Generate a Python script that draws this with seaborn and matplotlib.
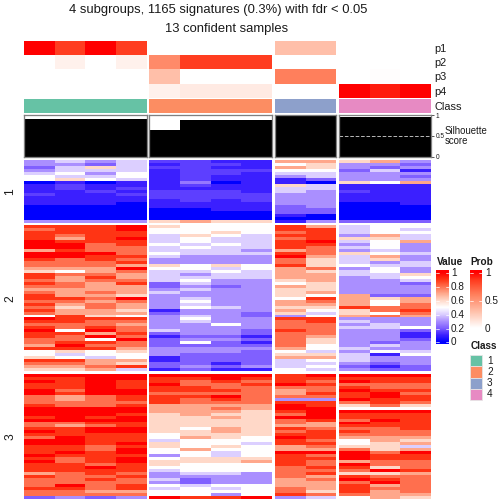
import numpy as np
import matplotlib
matplotlib.use("Agg")
import matplotlib.pyplot as plt
from matplotlib.colors import LinearSegmentedColormap
from matplotlib.patches import Rectangle
import seaborn as sns

sns.set_style("white")
plt.rcParams["font.family"] = ["Liberation Sans", "DejaVu Sans"]

# -----------------------------
# DATA (heat values in tenths)
# -----------------------------
p_rows = ["p1", "p2", "p3", "p4"]
prob_g1 = [[1, .85, 1, .85], [0, .07, 0, .07], [0, 0, 0, 0], [0, 0, 0, 0]]
prob_g2 = [[0, 0, 0, 0], [.55, .85, .85, .85], [.3, 0, 0, 0], [.07, .1, .1, .1]]
prob_g3 = [[.3, .3], [0, 0], [.6, .6], [0, 0]]
prob_g4 = [[0, 0, 0], [0, 0, 0], [0, .01, 0], [1, .93, 1]]

sil_g1 = [.9, .9, .9, .9]
sil_g2 = [.645, .885, .885, .885]
sil_g3 = [.99, .99]
sil_g4 = [.96, .96, .96]

b1_g1 = [[3,4,3,4],[3,3,2,4],[2,4,6,4],[3,4,4,4],[4,5,3,5],[5,4,4,5],[5,6,5,4],
         [0,1,0,1],[1,1.5,1,1],[1,1.5,1,1.5],[1,1,1.5,1],[1.5,1,1,1.5],[1,1,1,1],[1,1,1,1],
         [1,1,1,0],[0,0,0,0],[0,0,0,0],[0,0,0,0],[0,0,0,0],[0,0,0,0],[3,3,3,3]]
b1_g2 = [[1.5,1.5,1,1],[1,1.5,1.5,1],[1.5,1.5,1,1],[1,1.5,1.5,1.5],[1,1.5,1.5,1],[1,1.5,1,1],[1,1.5,1,1],
         [1,2.5,0,1],[1,1.5,1,1],[1,1,1,1],[1.5,1.5,1.5,1],[1.5,1.5,1.5,1.5],[1.5,1.5,1.5,1.5],[1,1.5,1,1.5],
         [1,1,1,1],[1,1,1,1],[0,0,1,1],[0,0,0,0],[0,0,0,0],[0,0,0,0],[6,7,6,6]]
b1_g3 = [[7,7],[5,6],[7,6],[5,5],[4,4],[3,4],[1,2],[1,0],[6,4],[4,4],[4,3],
         [3,3],[3,3],[3,3],[3,3],[2,3],[2,2],[2,2],[1,0],[0,0],[1,3]]
b1_g4 = [[6,7,3],[3,3,2],[3,2,3],[2,4,1],[3,3,3],[3,3,2],[3,3,3],[6,5,7],[1,1,1],
         [1,1,1],[1.5,1,1],[1,1,1],[1,1,1],[1,1,1],[0,0,1],[0,0,0],[0,0,0],[0,0,0],
         [0,0,0],[0,0,0],[2,2,2]]

b2_g1 = [[9,9,9,10],[8,9,9,10],[9,9,9,9],[9,8,9,9],[9,7,9,10],[10,9,9,9],[10,10,8,9],
         [10,10,8,8],[7,9,8,8],[10,10,10,8],[10,10,9,9],[9,8,9,8],[8,8,8,9],[8,8,8,7],
         [7,7,7,10],[6,5,7,8],[9,8,8,7],[9,7,9,7],[8,7,8,8],[9,8,7,9],[8,8,7,7],
         [7,7,7,7],[8,7,8,7],[9,7,7,6],[9,9,8,10],[8,8,7,8],[9,7,8,7],[8,6,8,7],
         [9,7,7,6],[8,7,7,7],[5,9,6,5],[10,9,9,9],[9,9,8,8],[8,8,8,7],[9,8,9,8],
         [10,5,10,8],[9,9,7,9],[9,8,10,8],[8,8,5,10],[8,9,9,8],[7,10,8,8],[9,9,9,7],
         [5,6,5,6],[5,4,5,5],[6,5,4,5],[9,9,7,7],[8,8,7,6],[7,7,8,9],[6,6,7,4]]
b2_g2 = [[6,5,5,5],[5,5,5,5],[5,5,6,5],[4,6,5,4],[4,5,4,4],[4,5,4,4],[5,4,5,4],
         [4,5,4,4],[4,4,4,3],[5,4,4,4],[4,3,3,3],[3,3,3,3],[3,3,3,3],[6,5,6,5],
         [5,5,4,5],[4,4,5,4],[4,3,4,4],[4,4,4,4],[4,5,3,3],[2,4,3,3],[2,3,2,3],
         [3,4,3,3],[4,3,3,3],[3,3,3,3],[3,4,3,3],[3,5,3,3],[3,4,3,3],[3,5,4,3],
         [1,3,3,3],[2,3,3,2],[3,4,3,2],[3,5,3,3],[3,4,3,3],[3,3,5,3],[3,3,3,3],
         [4,3,3,2],[2,3,3,2],[1,2,2,1],[2,3,3,2],[2,5,2,1],[2,2,2,2],[3,3,3,3],
         [3,3,3,2],[3,2,2,2],[1,2,2,2],[1,2,2,2],[2,2,1,2],[2,3,2,3],[1,2,1,1]]
b2_g3 = [[9,7],[9,9],[8,9],[9,9],[8,9],[9,10],[9,9],[9,8],[7,8],[9,8],[10,7],[8,6],
         [8,6],[9,6],[7,8],[7,6],[7,7],[7,7],[6,7],[5,6],[7,6],[6,6],[6,7],[6,5],
         [5,9],[7,8],[7,7],[6,6],[7,5],[6,4],[3,5],[9,9],[8,9],[8,8],[8,8],[9,8],
         [8,8],[8,7],[8,6],[8,6],[8,5],[7,5],[5,4],[6,6],[7,7],[4,5],[4,4],[4,5],[5,4]]
b2_g4 = [[4,5,5],[4,5,4],[4,5,5],[3,7,4],[6,6,4],[4,5,7],[3,5,3],[4,5,3],[3,4,3],
         [6,5,4],[4,7,3],[4,6,3],[4,3,4],[5,4,4],[3,5,3],[4,5,3],[4,4,6],[3,4,5],
         [3,3,4],[3,3,2],[3,3,3],[3,3,3],[3,3,3],[7,2,2],[7,6,7],[7,5,7],[7,5,8],
         [9,8,8],[6,8,9],[6,5,8],[7,8,7],[3,3,3],[4,3,3],[3,4,3],[4,4,5],[3,3,2],
         [3,3,1],[3,3,1],[3,3,2],[3,2,3],[3,4,3],[4,3,3],[3,5,4],[4,1,5],[4,3,3],
         [4,3,3],[3,2,3],[2,1,2],[3,2,2]]

b3_g1 = [[10,10,10,10],[9,9,10,10],[10,9,10,9],[9,9,10,9],[9,9,10,9],[10,8,10,10],
         [10,9,10,10],[8,7,8,9],[8,7,8,9],[8,8,8,8],[9,8,8,9],[10,10,10,10],
         [10,10,10,10],[10,10,10,9],[9,10,9,10],[10,10,10,10],[8,8,9,9],[8,7,8,9],
         [9,9,10,10],[10,9,10,10],[9,9,9,9],[8,10,9,9],[10,10,9,9],[10,10,9,10],
         [9,9,8,9],[9,9,8,10],[9,10,9,10],[10,9,9,9],[9,8,9,10],[10,8,9,10],
         [9,9,8,9],[9,9,10,9],[9,9,9,9],[7,8,9,8],[9,8,8,9],[8,8,9,8],[8,8,8,8],
         [8,10,8,9],[9,9,8,9],[8,8,7,7],[8,8,8,8],[2,3,2,3]]
b3_g2 = [[10,10,10,10],[9,9,10,9],[9,8,9,8],[10,8,8,9],[9,9,8,8],[9,9,9,8],[8,8,8,8],
         [9,9,10,8],[9,8,9,8],[9,8,8,8],[7,7,7,7],[7,7,8,7],[7,7,7,6],[6,7,6,6],
         [6,6,7,6],[6,6,6,6],[6,6,6,6],[6,6,6,6],[6,5,7,6],[6,6,7,6],[5,6,6,6],
         [5,7,6,5],[4,5,5,5],[6,5,5,4],[6,5,6,5],[5,7,5,5],[5,5,4,5],[3,5,4,5],
         [5,6,6,6],[6,6,6,7],[6,5,5,5],[5,5,5,5],[4,5,5,5],[3,4,4,3],[3,3,3,3],
         [4,2,3,3],[3,2,3,3],[5,4,5,5],[4,5,4,5],[5,5,5,5],[5,5,3,5],[10,9,9,10]]
b3_g3 = [[9,10],[9,9],[9,8],[10,9],[8,8],[7,8],[7,9],[8,8],[3,3],[9,9],[10,9],[10,10],
         [9,10],[8,10],[10,10],[8,9],[8,7],[7,7],[9,8],[8,9],[9,9],[10,9],[9,8],[9,9],
         [7,8],[7,7],[10,10],[9,8],[9,9],[9,8],[9,8],[8,9],[8,8],[8,9],[8,7],[7,8],
         [7,7],[7,7],[8,7],[8,6],[9,8],[3,4]]
b3_g4 = [[10,10,10],[9,9,9],[10,9,9],[8,8,8],[9,8,8],[10,9,9],[9,10,8],[9,10,9],
         [10,9,9],[8,9,8],[6,8,6],[5,5,5],[10,10,10],[9,9,9],[9,9,9],[8,10,9],
         [10,9,9],[9,9,9],[8,8,9],[9,8,8],[8,8,8],[7,7,7],[5,7,6],[5,6,7],[6,6,4],
         [8,6,7],[10,8,10],[10,9,9],[10,9,9],[7,8,8],[10,8,8],[9,6,8],[8,10,9],
         [6,6,7],[9,8,8],[10,9,8],[8,10,8],[9,7,8],[9,8,8],[9,7,8],[8,7,7],[5,7,6]]

block_labels = ["1", "2", "3"]
value_ticks = [1, 0.8, 0.6, 0.4, 0.2, 0]
prob_ticks = [1, 0.5, 0]
class_labels = ["1", "2", "3", "4"]

# -----------------------------
# LAYOUT (pixels of the 504 x 504 picture)
# -----------------------------
W = 504
groups = [(24, 147), (149, 272), (275, 336), (339, 431)]
blocks = [(160, 222.7), (225.3, 371), (374, 498.7)]

fig = plt.figure(figsize=(7, 7), dpi=72)


def px_axes(x0, y0, x1, y1):
    return fig.add_axes([x0 / W, 1 - y1 / W, (x1 - x0) / W, (y1 - y0) / W])


def px_text(x, y, s, **kw):
    kw.setdefault("va", "center")
    kw.setdefault("color", "#1a1a1a")
    fig.text(x / W, 1 - y / W, s, **kw)


heat_cmap = LinearSegmentedColormap.from_list(
    "heat", [(0, "#0000ff"), (.1, "#3c20ff"), (.2, "#8060ff"), (.3, "#ab90ff"), (.4, "#dccfff"), (.5, "#ffffff"),
             (.6, "#ffd8c8"), (.7, "#ffa88c"), (.8, "#ff6f4e"), (.9, "#ff3514"), (1, "#ff0000")])
prob_cmap = LinearSegmentedColormap.from_list(
    "prob", [(0, "#ffffff"), (.3, "#ffbfa8"), (.6, "#ff7f5c"), (.85, "#ff3d20"), (1, "#ff0000")])
class_colors = sns.color_palette("Set2", 4)

# -----------------------------
# TITLES
# -----------------------------
px_text(218.5, 10, "4 subgroups, 1165 signatures (0.3%) with fdr < 0.05", ha="center", fontsize=13)
px_text(226.5, 29, "13 confident samples", ha="center", fontsize=13)

# -----------------------------
# TOP ANNOTATIONS
# -----------------------------
prob_groups = [prob_g1, prob_g2, prob_g3, prob_g4]
sil_groups = [sil_g1, sil_g2, sil_g3, sil_g4]
for i, (x0, x1) in enumerate(groups):
    ax = px_axes(x0, 41, x1, 98)
    sns.heatmap(prob_groups[i], ax=ax, cmap=prob_cmap, vmin=0, vmax=1, cbar=False,
                xticklabels=False, yticklabels=False)

    ax = px_axes(x0, 99, x1, 113)
    sns.heatmap([[i] * len(sil_groups[i])], ax=ax, cmap=class_colors, vmin=0, vmax=3, cbar=False,
                xticklabels=False, yticklabels=False)

    ax = px_axes(x0, 114.7, x1, 157.3)
    sns.barplot(x=list(range(len(sil_groups[i]))), y=sil_groups[i], ax=ax, color="black",
                width=1, saturation=1, linewidth=0)
    ax.set_xlim(-0.5, len(sil_groups[i]) - 0.5)
    ax.set_ylim(-0.015, 1.015)
    ax.set_xticks([])
    ax.set_yticks([])
    for sp in ax.spines.values():
        sp.set_visible(True)
        sp.set_color("#808080")
        sp.set_linewidth(1.3)

# silhouette axis only sits on the last group
ax.axhline(0.5, color="#c8c8c8", lw=0.9, ls=(0, (4, 2)))
ax.yaxis.tick_right()
ax.set_yticks([0, 0.5, 1])
ax.set_yticklabels(["0", "0.5", "1"], fontsize=6.5)
ax.tick_params(axis="y", right=True, length=3, width=0.8, pad=1.5, color="#333333", labelcolor="#1a1a1a")

for y, s in zip([49, 63, 77, 92, 107], p_rows + ["Class"]):
    px_text(434.5, y, s, fontsize=11)
px_text(445, 130.5, "Silhouette", fontsize=9.6)
px_text(445, 141, "score", fontsize=9.6)

# -----------------------------
# MAIN HEATMAP SLICES
# -----------------------------
slices = [[b1_g1, b1_g2, b1_g3, b1_g4], [b2_g1, b2_g2, b2_g3, b2_g4], [b3_g1, b3_g2, b3_g3, b3_g4]]
for b, (y0, y1) in enumerate(blocks):
    for g, (x0, x1) in enumerate(groups):
        ax = px_axes(x0, y0, x1, y1)
        sns.heatmap(np.array(slices[b][g]) / 10, ax=ax, cmap=heat_cmap, vmin=0, vmax=1, cbar=False,
                    xticklabels=False, yticklabels=False)
    px_text(10.5, (y0 + y1) / 2, block_labels[b], rotation=90, ha="center", fontsize=12)

# -----------------------------
# LEGENDS
# -----------------------------
px_text(437, 262, "Value", fontsize=10, fontweight="bold")
px_text(470, 262, "Prob", fontsize=10, fontweight="bold")
px_text(471, 346, "Class", fontsize=10, fontweight="bold")

ax = px_axes(436, 270, 448.5, 344)
sns.heatmap(np.linspace(1.03, -0.03, 148).reshape(-1, 1), ax=ax, cmap=heat_cmap, vmin=0, vmax=1,
            cbar=False, xticklabels=False, yticklabels=False)
for t, y in zip(value_ticks, [272.7, 286.7, 300.7, 314.7, 328.7, 341.7]):
    px_text(451, y, str(t), fontsize=10)
    for a, b in [(436, 439), (445.5, 448.5)]:
        fig.add_artist(plt.Line2D([a / W, b / W], [1 - y / W, 1 - y / W], color="white", lw=0.7))

ax = px_axes(470, 270, 482, 328)
sns.heatmap(np.linspace(1.03, 0, 116).reshape(-1, 1), ax=ax, cmap=prob_cmap, vmin=0, vmax=1,
            cbar=False, xticklabels=False, yticklabels=False)
for t, y in zip(prob_ticks, [272.7, 300.7, 328.7]):
    px_text(485, y, str(t), fontsize=10)
    for a, b in [(470, 473), (479, 482)]:
        fig.add_artist(plt.Line2D([a / W, b / W], [1 - y / W, 1 - y / W], color="white", lw=0.7))

for i, s in enumerate(class_labels):
    y = 355 + 11.25 * i
    fig.add_artist(Rectangle((470 / W, 1 - (y + 11.25) / W), 12 / W, 11.25 / W, facecolor=class_colors[i],
                             edgecolor="#e6e6e6", lw=0.8, transform=fig.transFigure))
    px_text(487, y + 5.6, s, fontsize=10)

fig.savefig("out.png", dpi=72)
